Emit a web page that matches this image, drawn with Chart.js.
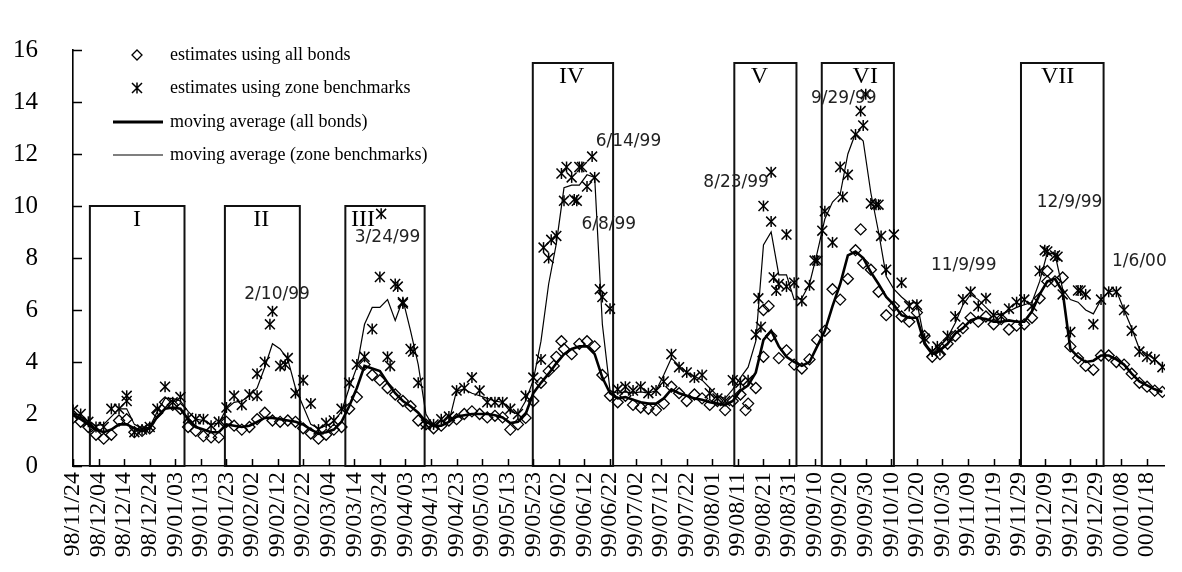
<!DOCTYPE html>
<html>
<head>
<meta charset="utf-8">
<script src="https://cdn.jsdelivr.net/npm/chart.js@4.4.1/dist/chart.umd.min.js"></script>
<style>
  html, body { margin: 0; padding: 0; background: #fff; }
  #wrap { width: 1182px; height: 572px; }
</style>
</head>
<body>
<div id="wrap"><canvas id="chart"></canvas></div>
<script>
// x = days since 98/11/24, one reading every third day
const tickLabels = ["98/11/24","98/12/04","98/12/14","98/12/24","99/01/03","99/01/13","99/01/23",
  "99/02/02","99/02/12","99/02/22","99/03/04","99/03/14","99/03/24","99/04/03","99/04/13",
  "99/04/23","99/05/03","99/05/13","99/05/23","99/06/02","99/06/12","99/06/22","99/07/02",
  "99/07/12","99/07/22","99/08/01","99/08/11","99/08/21","99/08/31","99/09/10","99/09/20",
  "99/09/30","99/10/10","99/10/20","99/10/30","99/11/09","99/11/19","99/11/29","99/12/09",
  "99/12/19","99/12/29","00/01/08","00/01/18"];

const sampleDays = [0,3,6,9,12,15,18,21,24,27, 30,33,36,39,42,45,48,51,54,57,
  60,63,66,69,72,75,78,81,84,87, 90,93,96,99,102,105,108,111,114,117,
  120,123,126,129,132,135,138,141,144,147, 150,153,156,159,162,165,168,171,174,177,
  180,183,186,189,192,195,198,201,204,207, 210,213,216,219,222,225,228,231,234,237,
  240,243,246,249,252,255,258,261,264,267, 270,273,276,279,282,285,288,291,294,297,
  300,303,306,309,312,315,318,321,324,327, 330,333,336,339,342,345,348,351,354,357,
  360,363,366,369,372,375,378,381,384,387, 390,393,396,399,402,405,408,411,414,417,
  420,423,426];

const allBonds = [1.85,1.7,1.5,1.2,1.05,1.2,1.75,1.8,1.3,1.35,
  1.45,2.05,2.45,2.35,2.2,1.5,1.35,1.15,1.1,1.1,
  1.7,1.55,1.4,1.5,1.8,2.05,1.75,1.7,1.75,1.7,
  1.45,1.25,1.05,1.2,1.4,1.5,2.2,2.65,3.9,3.5,
  3.3,3.0,2.75,2.5,2.3,1.75,1.6,1.45,1.55,1.75,
  1.8,2.0,2.1,2.0,1.87,1.93,1.87,1.4,1.6,1.85,
  2.5,3.2,3.65,4.2,4.5,4.3,4.7,4.8,4.6,3.5,
  2.7,2.45,2.7,2.35,2.25,2.2,2.15,2.4,3.05,2.8,
  2.5,2.75,2.6,2.35,2.5,2.15,2.5,2.75,2.4,3.0,
  4.2,5.0,4.15,4.45,3.9,3.75,4.1,4.85,5.2,6.8,
  6.4,7.2,8.3,7.8,7.55,6.7,5.8,6.15,5.75,5.55,
  5.9,5.0,4.2,4.3,4.7,5.0,5.3,5.7,5.55,5.75,
  5.45,5.65,5.25,5.4,5.45,5.7,6.45,7.5,7.1,7.25,
  4.6,4.15,3.85,3.7,4.25,4.25,4.0,3.9,3.55,3.2,
  3.05,2.9,2.85];

const zoneBench = [2.15,2.0,1.7,1.5,1.5,2.2,2.2,2.7,1.3,1.4,
  1.5,2.2,3.05,2.45,2.65,1.85,1.8,1.8,1.55,1.7,
  2.25,2.7,2.35,2.75,2.7,4.0,5.95,3.85,4.15,2.8,
  3.3,2.4,1.4,1.65,1.75,2.2,3.2,3.9,4.2,5.27,
  7.27,4.2,7.0,6.3,4.5,3.2,1.6,1.6,1.8,1.9,
  2.9,3.0,3.4,2.9,2.45,2.45,2.45,2.2,2.0,2.7,
  3.4,4.1,8.0,8.85,10.2,11.1,11.5,10.75,11.1,6.5,
  6.05,2.95,3.05,2.9,3.05,2.8,2.9,3.25,4.3,3.8,
  3.6,3.4,3.5,2.8,2.6,2.5,3.3,3.2,3.3,5.05,
  10.0,9.4,7.0,6.9,7.05,6.35,6.95,7.9,9.8,8.6,
  11.5,11.2,12.75,13.1,10.1,10.05,7.55,8.9,7.05,6.15,
  6.2,4.9,4.4,4.45,5.0,5.75,6.4,6.7,6.15,6.45,
  5.8,5.75,6.05,6.3,6.4,6.15,7.5,8.25,8.1,6.6,
  5.15,6.75,6.6,5.45,6.4,6.7,6.7,6.0,5.2,4.4,
  4.2,4.1,3.8];

const maAll = [1.95,1.8,1.6,1.4,1.3,1.4,1.6,1.6,1.45,1.35,
  1.45,1.9,2.2,2.25,2.2,1.8,1.5,1.4,1.3,1.3,
  1.6,1.55,1.5,1.55,1.7,1.85,1.85,1.8,1.75,1.7,
  1.6,1.4,1.25,1.3,1.4,1.7,2.3,3.0,3.85,3.75,
  3.65,3.2,2.8,2.5,2.3,2.05,1.7,1.55,1.55,1.7,
  1.9,1.95,2.0,2.0,2.0,1.95,1.87,1.65,1.7,2.0,
  2.8,3.2,3.55,3.95,4.3,4.5,4.6,4.6,4.3,3.4,
  2.8,2.6,2.65,2.55,2.45,2.4,2.4,2.6,2.95,2.8,
  2.7,2.6,2.55,2.45,2.4,2.35,2.5,2.9,3.1,3.6,
  4.85,5.2,4.6,4.2,4.0,3.85,4.0,4.6,5.2,6.15,
  7.0,8.1,8.25,8.0,7.45,7.0,6.5,6.2,5.8,5.7,
  5.7,4.7,4.3,4.45,4.7,5.1,5.3,5.6,5.7,5.65,
  5.55,5.55,5.6,5.55,5.55,5.95,6.6,7.1,7.2,6.7,
  4.5,4.2,4.0,4.05,4.25,4.25,4.1,3.9,3.55,3.25,
  3.1,2.95,2.85];

const maZone = [2.05,1.9,1.7,1.55,1.6,1.9,2.2,2.2,1.6,1.45,
  1.5,2.1,2.6,2.6,2.5,2.1,1.8,1.75,1.6,1.65,
  2.2,2.45,2.5,2.7,3.0,3.8,4.7,4.5,4.1,3.0,
  2.3,1.6,1.45,1.55,1.7,2.1,3.0,3.8,5.45,6.1,
  6.1,6.4,5.6,6.4,5.2,3.9,2.0,1.5,1.55,1.7,
  2.9,2.95,2.8,2.7,2.6,2.5,2.45,2.1,2.0,2.5,
  3.3,4.8,7.0,8.55,10.7,10.8,10.8,11.2,11.1,5.45,
  2.9,2.8,2.85,2.8,2.85,2.8,2.9,3.5,4.15,3.85,
  3.6,3.45,3.3,3.0,2.7,2.6,2.95,3.4,3.8,4.8,
  8.5,9.0,7.35,7.35,6.4,6.45,7.0,8.2,9.5,10.15,
  10.45,12.0,12.8,12.5,10.5,9.0,7.3,6.8,6.5,6.25,
  6.3,4.8,4.3,4.6,4.95,5.5,6.2,6.6,6.4,6.1,
  5.8,5.85,5.95,6.1,6.2,6.3,7.1,8.2,8.15,6.8,
  6.4,6.3,6.0,5.85,6.4,6.7,6.75,6.0,5.3,4.5,
  4.3,4.1,3.85];

// single readings that fall between the sampled days
const allExtraDays = [188, 191, 263, 270, 272, 308, 381];
const allExtraVals = [3.85, 4.8, 2.15, 6.0, 6.15, 9.1, 7.1];
const zoneExtraDays = [21, 72, 77, 83, 120.5, 124, 127, 129, 133, 184, 187, 191, 193, 196, 197,
  199, 203, 206, 268, 269, 273, 274, 275, 279, 290, 293, 301, 308, 310, 314, 316, 338, 380, 385, 394];
const zoneExtraVals = [2.5, 3.55, 5.45, 3.9, 9.7, 3.85, 6.9, 6.25, 4.4, 8.4, 8.7, 11.25, 11.5, 10.25, 10.2,
  11.5, 11.9, 6.8, 6.45, 5.35, 11.3, 7.25, 6.75, 8.9, 7.9, 9.05, 10.35, 13.65, 14.3, 10.05, 8.85, 4.6, 8.3, 8.05, 6.75];

// periods marked with boxes
const periodNames = ["I", "II", "III", "IV", "V", "VI", "VII"];
const periodStart = [6.6, 59.4, 106.5, 179.8, 258.6, 292.8, 370.7];
const periodEnd = [43.6, 88.7, 137.5, 211.2, 282.9, 321, 403];
const periodTop = [10, 10, 10, 15.5, 15.5, 15.5, 15.5];
const periodNameDay = [25, 73.6, 113.4, 195, 268.4, 309.8, 385];

const noteText = ["2/10/99", "3/24/99", "6/14/99", "6/8/99", "8/23/99", "9/29/99", "11/9/99", "12/9/99", "1/6/00"];
const noteDay = [79.8, 123, 217.2, 209.5, 259.3, 301.4, 348.3, 389.7, 417];
const noteVal = [6.59, 8.8, 12.49, 9.3, 10.89, 14.14, 7.72, 10.13, 7.87];

const legendNames = ["estimates using all bonds", "estimates using zone benchmarks",
  "moving average (all bonds)", "moving average (zone benchmarks)"];

function pts(days, vals) {
  return days.map((d, i) => ({ x: d, y: vals[i] }));
}

const zonePoints = pts(sampleDays, zoneBench).concat(pts(zoneExtraDays, zoneExtraVals));

const extras = {
  id: "extras",
  beforeDatasetsDraw(chart) {
    const { ctx, scales: { x, y } } = chart;
    ctx.save();
    ctx.strokeStyle = "#111";
    ctx.lineWidth = 2;
    for (let i = 0; i < periodNames.length; i++) {
      const x0 = x.getPixelForValue(periodStart[i]);
      const x1 = x.getPixelForValue(periodEnd[i]);
      const y0 = y.getPixelForValue(periodTop[i]);
      const y1 = y.getPixelForValue(0);
      ctx.strokeRect(x0, y0, x1 - x0, y1 - y0);
    }
    ctx.restore();
  },
  afterDraw(chart) {
    const { ctx, scales: { x, y } } = chart;
    ctx.save();
    // inside tick marks
    ctx.strokeStyle = "#000";
    ctx.lineWidth = 1.5;
    ctx.beginPath();
    x.ticks.forEach(t => {
      const px = Math.round(x.getPixelForValue(t.value)) + 0.5;
      ctx.moveTo(px, y.bottom);
      ctx.lineTo(px, y.bottom - 7);
    });
    y.ticks.forEach(t => {
      const py = Math.round(y.getPixelForValue(t.value)) + 0.5;
      ctx.moveTo(x.left, py);
      ctx.lineTo(x.left + 9, py);
    });
    ctx.stroke();

    // roman numerals
    ctx.fillStyle = "#000";
    ctx.font = '24px "Liberation Serif"';
    ctx.textAlign = "center";
    ctx.textBaseline = "middle";
    for (let i = 0; i < periodNames.length; i++) {
      ctx.fillText(periodNames[i], x.getPixelForValue(periodNameDay[i]), y.getPixelForValue(periodTop[i] - 0.53));
    }

    // date notes
    ctx.fillStyle = "#222";
    ctx.font = '17px "DejaVu Sans"';
    for (let i = 0; i < noteText.length; i++) {
      ctx.fillText(noteText[i], x.getPixelForValue(noteDay[i]), y.getPixelForValue(noteVal[i]));
    }

    // legend
    const rows = [55, 88, 122, 155];
    ctx.fillStyle = "#000";
    ctx.font = '18px "Liberation Serif"';
    ctx.textAlign = "left";
    legendNames.forEach((name, i) => {
      ctx.fillText(name, 170, rows[i]);
    });
    ctx.strokeStyle = "#000";
    ctx.lineWidth = 1.3;
    ctx.beginPath();
    ctx.moveTo(132, rows[0]); ctx.lineTo(137, rows[0] - 5); ctx.lineTo(142, rows[0]); ctx.lineTo(137, rows[0] + 5);
    ctx.closePath();
    ctx.stroke();
    ctx.lineWidth = 1.5;
    ctx.beginPath();
    ctx.moveTo(137, rows[1] - 5.5); ctx.lineTo(137, rows[1] + 5.5);
    ctx.moveTo(132, rows[1] - 5); ctx.lineTo(142, rows[1] + 5);
    ctx.moveTo(142, rows[1] - 5); ctx.lineTo(132, rows[1] + 5);
    ctx.stroke();
    ctx.lineWidth = 2.8;
    ctx.beginPath(); ctx.moveTo(113, rows[2]); ctx.lineTo(163, rows[2]); ctx.stroke();
    ctx.lineWidth = 1.2;
    ctx.beginPath(); ctx.moveTo(113, rows[3]); ctx.lineTo(163, rows[3]); ctx.stroke();
    ctx.restore();
  }
};

new Chart(document.getElementById("chart"), {
  type: "scatter",
  data: {
    datasets: [
      {
        label: legendNames[0],
        data: pts(sampleDays, allBonds).concat(pts(allExtraDays, allExtraVals)),
        showLine: false,
        pointStyle: "rectRot",
        pointRadius: 5.5,
        borderColor: "#000",
        borderWidth: 1.3,
        backgroundColor: "rgba(255,255,255,0)"
      },
      {
        // asterisk = diagonal cross ...
        label: legendNames[1],
        data: zonePoints,
        showLine: false,
        pointStyle: "crossRot",
        pointRadius: 7,
        borderColor: "#000",
        borderWidth: 1.5
      },
      {
        // ... plus a vertical stroke
        label: legendNames[1],
        data: zonePoints,
        showLine: false,
        pointStyle: "line",
        pointRotation: 90,
        pointRadius: 5.5,
        borderColor: "#000",
        borderWidth: 1.5
      },
      {
        label: legendNames[2],
        data: pts(sampleDays, maAll),
        showLine: true,
        borderColor: "#000",
        borderWidth: 2.6,
        pointRadius: 0,
        tension: 0
      },
      {
        label: legendNames[3],
        data: pts(sampleDays, maZone),
        showLine: true,
        borderColor: "#000",
        borderWidth: 1.2,
        pointRadius: 0,
        tension: 0
      }
    ]
  },
  options: {
    responsive: true,
    maintainAspectRatio: false,
    animation: false,
    devicePixelRatio: 1,
    events: [],
    layout: { padding: { top: 19, right: 7, left: 0, bottom: 0 } },
    plugins: { legend: { display: false }, tooltip: { enabled: false } },
    scales: {
      x: {
        type: "linear",
        min: 0,
        max: 427,
        afterFit: s => { s.height = 106; },
        grid: { display: false, drawTicks: false },
        border: { display: true, color: "#000", width: 1.6 },
        ticks: {
          stepSize: 10,
          includeBounds: false,
          autoSkip: false,
          minRotation: 90,
          maxRotation: 90,
          padding: 6,
          color: "#000",
          font: { family: "Liberation Serif", size: 24 },
          callback: v => tickLabels[v / 10] || ""
        }
      },
      y: {
        min: 0,
        max: 16,
        afterFit: s => { s.width = 73; },
        grid: { display: false, drawTicks: false },
        border: { display: true, color: "#000", width: 1.6 },
        ticks: {
          stepSize: 2,
          padding: 35,
          color: "#000",
          font: { family: "Liberation Serif", size: 25 }
        }
      }
    }
  },
  plugins: [extras]
});
</script>
</body>
</html>
